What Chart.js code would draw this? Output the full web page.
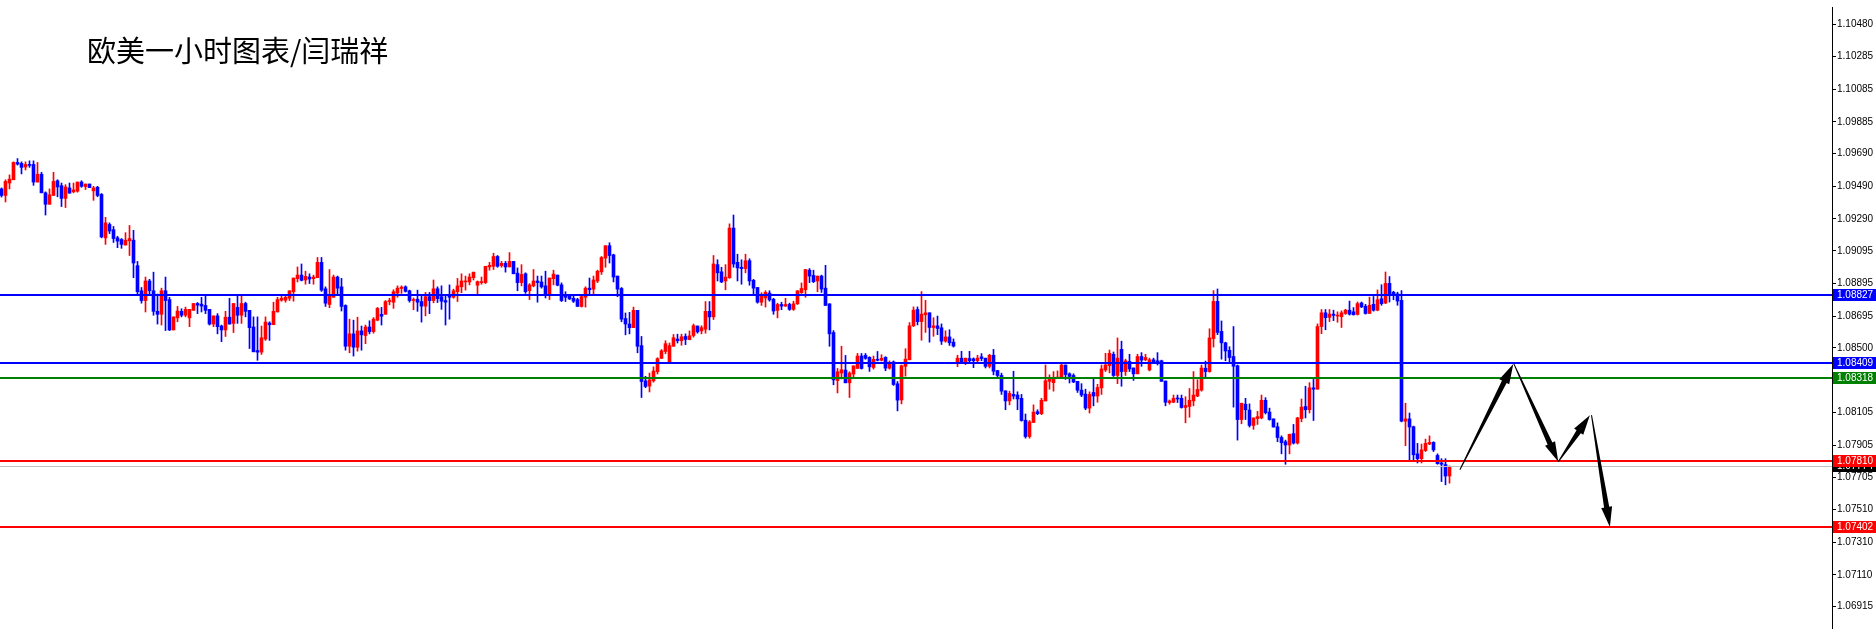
<!DOCTYPE html>
<html>
<head>
<meta charset="utf-8">
<script src="https://cdn.jsdelivr.net/npm/chart.js@4.4.1/dist/chart.umd.min.js"></script>
<style>
html, body { margin: 0; padding: 0; background: #fff; }
#wrap { position: relative; width: 1876px; height: 635px; overflow: hidden; }
#title { position: absolute; left: 87px; top: 31px; font-family: "Noto Sans CJK SC", sans-serif; font-size: 29px; line-height: 36px; color: #000; white-space: nowrap; }
</style>
</head>
<body>
<div id="wrap">
  <canvas id="chart" width="1876" height="635"></canvas>
  <div id="title">欧美一小时图表/闫瑞祥</div>
</div>
<script>
// EURUSD H1 candles (oldest first)
var opens = [
1.09474,1.09434,1.09510,1.09530,1.09636,1.09630,1.09608,1.09622,1.09624,1.09516,
1.09564,1.09450,1.09380,1.09434,1.09524,1.09494,1.09416,1.09480,1.09456,1.09460,
1.09516,1.09488,1.09504,1.09462,1.09484,1.09440,1.09174,1.09256,1.09224,1.09174,
1.09164,1.09130,1.09156,1.09160,1.09004,1.08850,1.08790,1.08910,1.08850,1.08724,
1.08706,1.08850,1.08796,1.08610,1.08684,1.08724,1.08700,1.08684,1.08730,1.08772,
1.08768,1.08760,1.08736,1.08646,1.08696,1.08634,1.08610,1.08688,1.08650,1.08748,
1.08700,1.08772,1.08730,1.08628,1.08484,1.08474,1.08554,1.08652,1.08642,1.08720,
1.08792,1.08792,1.08804,1.08844,1.08924,1.08946,1.08916,1.08934,1.08924,1.08930,
1.09024,1.08862,1.08766,1.08810,1.08934,1.08874,1.08760,1.08510,1.08586,1.08504,
1.08604,1.08576,1.08628,1.08600,1.08670,1.08706,1.08706,1.08784,1.08780,1.08836,
1.08864,1.08874,1.08850,1.08790,1.08798,1.08784,1.08756,1.08814,1.08790,1.08862,
1.08814,1.08790,1.08816,1.08810,1.08844,1.08874,1.08904,1.08904,1.08930,1.08884,
1.08900,1.08900,1.08996,1.09000,1.09060,1.09004,1.09018,1.08996,1.09030,1.08958,
1.08900,1.08954,1.08850,1.08880,1.08910,1.08904,1.08880,1.08826,1.08924,1.08946,
1.08886,1.08826,1.08820,1.08804,1.08796,1.08754,1.08810,1.08866,1.08860,1.08910,
1.08966,1.09050,1.09126,1.09070,1.08940,1.08864,1.08680,1.08646,1.08624,1.08730,
1.08514,1.08298,1.08266,1.08298,1.08354,1.08436,1.08478,1.08410,1.08510,1.08554,
1.08544,1.08570,1.08550,1.08576,1.08634,1.08604,1.08614,1.08724,1.08690,1.09010,
1.08966,1.08910,1.08930,1.09234,1.09024,1.08994,1.08986,1.09034,1.08914,1.08870,
1.08780,1.08806,1.08836,1.08798,1.08730,1.08766,1.08756,1.08766,1.08736,1.08770,
1.08838,1.08856,1.08976,1.08944,1.08910,1.08940,1.08866,1.08770,1.08594,1.08300,
1.08346,1.08364,1.08286,1.08340,1.08374,1.08450,1.08454,1.08442,1.08380,1.08430,
1.08424,1.08442,1.08376,1.08414,1.08280,1.08181,1.08387,1.08427,1.08635,1.08735,
1.08661,1.08703,1.08715,1.08625,1.08635,1.08623,1.08541,1.08567,1.08535,1.08415,
1.08437,1.08415,1.08435,1.08433,1.08421,1.08445,1.08437,1.08387,1.08455,1.08361,
1.08331,1.08237,1.08175,1.08215,1.08211,1.08191,1.08057,1.07957,1.08043,1.08109,
1.08097,1.08175,1.08295,1.08287,1.08315,1.08321,1.08395,1.08341,1.08331,1.08295,
1.08241,1.08217,1.08131,1.08227,1.08205,1.08255,1.08365,1.08391,1.08461,1.08331,
1.08491,1.08355,1.08417,1.08377,1.08341,1.08447,1.08427,1.08365,1.08427,1.08421,
1.08421,1.08297,1.08165,1.08167,1.08191,1.08191,1.08135,1.08141,1.08175,1.08205,
1.08241,1.08375,1.08355,1.08557,1.08785,1.08601,1.08531,1.08485,1.08447,1.08391,
1.08061,1.08155,1.08119,1.08025,1.08067,1.08071,1.08179,1.08107,1.08065,1.08017,
1.07951,1.07925,1.07905,1.07975,1.07917,1.08067,1.08141,1.08121,1.08255,1.08247,
1.08631,1.08715,1.08687,1.08707,1.08695,1.08691,1.08711,1.08731,1.08721,1.08705,
1.08775,1.08755,1.08711,1.08767,1.08731,1.08801,1.08775,1.08895,1.08841,1.08831,
1.08791,1.08051,1.08065,1.08017,1.07851,1.07821,1.07871,1.07911,1.07921,1.07841,
1.07795,1.07785,1.07715
];
var highs = [
1.09480,1.09530,1.09560,1.09640,1.09660,1.09640,1.09640,1.09646,1.09646,1.09636,
1.09576,1.09456,1.09474,1.09576,1.09530,1.09510,1.09500,1.09510,1.09510,1.09516,
1.09524,1.09504,1.09504,1.09490,1.09490,1.09446,1.09300,1.09266,1.09244,1.09184,
1.09170,1.09206,1.09250,1.09220,1.09030,1.08870,1.08934,1.08920,1.08964,1.08830,
1.08866,1.08934,1.08810,1.08690,1.08754,1.08740,1.08750,1.08736,1.08772,1.08778,
1.08810,1.08826,1.08736,1.08696,1.08710,1.08640,1.08724,1.08804,1.08772,1.08826,
1.08826,1.08780,1.08730,1.08690,1.08690,1.08634,1.08690,1.08660,1.08780,1.08810,
1.08816,1.08816,1.08850,1.08928,1.08996,1.09014,1.08970,1.08954,1.08946,1.09054,
1.09054,1.08874,1.08980,1.08946,1.08940,1.08926,1.08764,1.08676,1.08670,1.08688,
1.08634,1.08640,1.08666,1.08686,1.08748,1.08748,1.08790,1.08804,1.08856,1.08880,
1.08880,1.08880,1.08854,1.08806,1.08854,1.08816,1.08840,1.08840,1.08916,1.08874,
1.08880,1.08826,1.08886,1.08860,1.08926,1.08954,1.08940,1.08954,1.08964,1.08910,
1.08934,1.09000,1.09024,1.09080,1.09066,1.09030,1.09030,1.09084,1.09030,1.08990,
1.09010,1.08960,1.08894,1.08980,1.08940,1.08940,1.08970,1.08928,1.08976,1.08946,
1.08898,1.08844,1.08826,1.08820,1.08804,1.08820,1.08874,1.08928,1.08940,1.08976,
1.09060,1.09126,1.09144,1.09074,1.08940,1.08870,1.08714,1.08718,1.08750,1.08730,
1.08570,1.08326,1.08346,1.08384,1.08440,1.08490,1.08544,1.08530,1.08582,1.08584,
1.08584,1.08586,1.08604,1.08646,1.08634,1.08636,1.08784,1.08784,1.09066,1.09040,
1.08994,1.09010,1.09260,1.09314,1.09074,1.09040,1.09074,1.09046,1.08920,1.08870,
1.08838,1.08850,1.08850,1.08804,1.08774,1.08780,1.08804,1.08774,1.08786,1.08850,
1.08898,1.08980,1.08986,1.08976,1.08940,1.08946,1.09006,1.08770,1.08606,1.08374,
1.08510,1.08454,1.08354,1.08390,1.08466,1.08466,1.08466,1.08446,1.08450,1.08478,
1.08458,1.08446,1.08420,1.08420,1.08294,1.08395,1.08495,1.08655,1.08751,1.08751,
1.08845,1.08791,1.08715,1.08685,1.08695,1.08647,1.08605,1.08611,1.08555,1.08455,
1.08479,1.08437,1.08479,1.08439,1.08455,1.08465,1.08437,1.08461,1.08491,1.08361,
1.08345,1.08237,1.08235,1.08357,1.08231,1.08215,1.08095,1.08055,1.08151,1.08121,
1.08191,1.08395,1.08335,1.08355,1.08359,1.08405,1.08395,1.08347,1.08341,1.08295,
1.08281,1.08247,1.08231,1.08311,1.08277,1.08395,1.08467,1.08487,1.08475,1.08561,
1.08541,1.08431,1.08461,1.08377,1.08461,1.08471,1.08461,1.08437,1.08437,1.08471,
1.08425,1.08297,1.08181,1.08211,1.08211,1.08211,1.08201,1.08251,1.08355,1.08305,
1.08395,1.08419,1.08617,1.08851,1.08861,1.08665,1.08535,1.08507,1.08631,1.08395,
1.08161,1.08191,1.08157,1.08071,1.08111,1.08211,1.08195,1.08131,1.08065,1.08041,
1.07961,1.07935,1.07971,1.08031,1.08075,1.08187,1.08265,1.08287,1.08307,1.08647,
1.08735,1.08735,1.08735,1.08731,1.08721,1.08727,1.08737,1.08787,1.08747,1.08781,
1.08781,1.08767,1.08811,1.08815,1.08855,1.08887,1.08965,1.08937,1.08847,1.08841,
1.08851,1.08161,1.08101,1.08021,1.07915,1.07911,1.07941,1.07961,1.07925,1.07851,
1.07821,1.07821,1.07777
];
var lows = [
1.09424,1.09394,1.09474,1.09530,1.09620,1.09566,1.09590,1.09606,1.09496,1.09516,
1.09450,1.09314,1.09380,1.09434,1.09426,1.09366,1.09360,1.09448,1.09450,1.09454,
1.09484,1.09470,1.09482,1.09404,1.09426,1.09174,1.09134,1.09200,1.09146,1.09114,
1.09110,1.09130,1.09066,1.08930,1.08826,1.08774,1.08720,1.08820,1.08700,1.08646,
1.08640,1.08606,1.08606,1.08610,1.08660,1.08690,1.08690,1.08630,1.08730,1.08710,
1.08720,1.08710,1.08640,1.08630,1.08586,1.08538,1.08570,1.08646,1.08594,1.08650,
1.08650,1.08690,1.08496,1.08476,1.08424,1.08460,1.08546,1.08546,1.08642,1.08720,
1.08786,1.08780,1.08790,1.08786,1.08904,1.08910,1.08890,1.08894,1.08890,1.08930,
1.08846,1.08754,1.08746,1.08810,1.08830,1.08726,1.08486,1.08470,1.08450,1.08480,
1.08486,1.08526,1.08586,1.08590,1.08666,1.08640,1.08706,1.08764,1.08742,1.08810,
1.08834,1.08842,1.08780,1.08734,1.08724,1.08658,1.08696,1.08710,1.08776,1.08778,
1.08736,1.08640,1.08676,1.08804,1.08784,1.08838,1.08854,1.08886,1.08916,1.08830,
1.08890,1.08894,1.08976,1.08980,1.08994,1.08994,1.08964,1.08996,1.08954,1.08850,
1.08880,1.08834,1.08796,1.08874,1.08780,1.08866,1.08806,1.08796,1.08886,1.08880,
1.08784,1.08784,1.08796,1.08778,1.08754,1.08750,1.08750,1.08826,1.08830,1.08900,
1.08950,1.08994,1.09020,1.08904,1.08814,1.08660,1.08580,1.08586,1.08624,1.08470,
1.08196,1.08256,1.08230,1.08290,1.08340,1.08434,1.08464,1.08410,1.08510,1.08530,
1.08516,1.08520,1.08550,1.08566,1.08590,1.08586,1.08590,1.08610,1.08674,1.08910,
1.08900,1.08856,1.08926,1.08994,1.08910,1.08890,1.08960,1.08884,1.08826,1.08774,
1.08760,1.08750,1.08786,1.08706,1.08684,1.08734,1.08754,1.08730,1.08730,1.08766,
1.08834,1.08810,1.08900,1.08900,1.08844,1.08840,1.08760,1.08510,1.08274,1.08224,
1.08310,1.08286,1.08196,1.08320,1.08374,1.08370,1.08430,1.08356,1.08370,1.08420,
1.08420,1.08360,1.08370,1.08270,1.08114,1.08157,1.08327,1.08427,1.08631,1.08641,
1.08547,1.08595,1.08535,1.08571,1.08581,1.08521,1.08535,1.08515,1.08505,1.08385,
1.08407,1.08397,1.08411,1.08379,1.08415,1.08421,1.08377,1.08377,1.08335,1.08321,
1.08215,1.08121,1.08151,1.08187,1.08121,1.08051,1.07947,1.07947,1.08043,1.08091,
1.08091,1.08175,1.08247,1.08235,1.08315,1.08321,1.08307,1.08285,1.08287,1.08227,
1.08201,1.08121,1.08101,1.08145,1.08167,1.08215,1.08355,1.08347,1.08325,1.08281,
1.08265,1.08331,1.08355,1.08301,1.08341,1.08387,1.08421,1.08359,1.08407,1.08395,
1.08295,1.08145,1.08155,1.08165,1.08165,1.08131,1.08041,1.08075,1.08145,1.08201,
1.08235,1.08321,1.08351,1.08505,1.08581,1.08431,1.08421,1.08415,1.08137,1.07935,
1.08035,1.08061,1.08015,1.08001,1.08031,1.08065,1.08095,1.08057,1.08015,1.07925,
1.07851,1.07787,1.07851,1.07911,1.07911,1.08047,1.08071,1.08101,1.08055,1.08247,
1.08587,1.08611,1.08661,1.08667,1.08657,1.08625,1.08705,1.08701,1.08701,1.08701,
1.08747,1.08707,1.08711,1.08725,1.08727,1.08761,1.08771,1.08781,1.08795,1.08761,
1.08047,1.07901,1.07815,1.07815,1.07795,1.07795,1.07865,1.07907,1.07865,1.07787,
1.07681,1.07661,1.07671
];
var closes = [
1.09434,1.09520,1.09534,1.09636,1.09626,1.09606,1.09624,1.09618,1.09516,1.09564,
1.09450,1.09380,1.09438,1.09520,1.09486,1.09416,1.09486,1.09448,1.09468,1.09516,
1.09490,1.09504,1.09482,1.09480,1.09434,1.09180,1.09266,1.09216,1.09170,1.09154,
1.09134,1.09160,1.09170,1.09020,1.08844,1.08790,1.08910,1.08850,1.08724,1.08706,
1.08850,1.08790,1.08610,1.08690,1.08726,1.08700,1.08736,1.08736,1.08772,1.08762,
1.08756,1.08730,1.08646,1.08696,1.08630,1.08610,1.08688,1.08646,1.08772,1.08700,
1.08772,1.08724,1.08624,1.08476,1.08474,1.08562,1.08658,1.08642,1.08724,1.08796,
1.08804,1.08810,1.08850,1.08928,1.08946,1.08914,1.08938,1.08922,1.08934,1.09024,
1.08854,1.08774,1.08824,1.08934,1.08866,1.08754,1.08510,1.08586,1.08504,1.08604,
1.08580,1.08628,1.08600,1.08676,1.08742,1.08694,1.08784,1.08790,1.08844,1.08866,
1.08872,1.08846,1.08790,1.08796,1.08780,1.08756,1.08814,1.08790,1.08862,1.08802,
1.08786,1.08780,1.08810,1.08850,1.08880,1.08910,1.08910,1.08934,1.08964,1.08906,
1.08906,1.09000,1.09006,1.09060,1.09000,1.09018,1.08996,1.09030,1.08954,1.08900,
1.08950,1.08844,1.08886,1.08910,1.08900,1.08874,1.08826,1.08928,1.08952,1.08884,
1.08790,1.08810,1.08800,1.08786,1.08754,1.08814,1.08866,1.08856,1.08916,1.08970,
1.09054,1.09126,1.09066,1.08934,1.08860,1.08676,1.08646,1.08624,1.08730,1.08510,
1.08294,1.08264,1.08304,1.08358,1.08434,1.08482,1.08526,1.08514,1.08562,1.08544,
1.08568,1.08552,1.08574,1.08636,1.08598,1.08624,1.08724,1.08690,1.09014,1.08960,
1.08904,1.08934,1.09234,1.09014,1.08990,1.08986,1.09034,1.08910,1.08866,1.08780,
1.08820,1.08840,1.08794,1.08726,1.08766,1.08756,1.08766,1.08736,1.08770,1.08850,
1.08864,1.08980,1.08940,1.08906,1.08940,1.08860,1.08760,1.08586,1.08304,1.08354,
1.08366,1.08286,1.08346,1.08390,1.08450,1.08374,1.08436,1.08384,1.08430,1.08424,
1.08436,1.08376,1.08400,1.08276,1.08180,1.08391,1.08431,1.08635,1.08731,1.08661,
1.08707,1.08715,1.08625,1.08635,1.08619,1.08541,1.08567,1.08531,1.08511,1.08437,
1.08415,1.08437,1.08421,1.08421,1.08437,1.08435,1.08387,1.08455,1.08357,1.08331,
1.08235,1.08175,1.08221,1.08205,1.08187,1.08055,1.07957,1.08047,1.08107,1.08097,
1.08179,1.08299,1.08315,1.08315,1.08321,1.08395,1.08337,1.08325,1.08291,1.08241,
1.08211,1.08131,1.08215,1.08205,1.08257,1.08371,1.08395,1.08467,1.08331,1.08437,
1.08355,1.08421,1.08371,1.08341,1.08447,1.08425,1.08441,1.08427,1.08415,1.08411,
1.08295,1.08167,1.08175,1.08191,1.08187,1.08135,1.08147,1.08179,1.08211,1.08245,
1.08377,1.08355,1.08561,1.08785,1.08595,1.08531,1.08481,1.08441,1.08387,1.08061,
1.08161,1.08121,1.08025,1.08071,1.08079,1.08179,1.08103,1.08061,1.08015,1.07951,
1.07919,1.07905,1.07971,1.07917,1.08071,1.08137,1.08121,1.08255,1.08247,1.08631,
1.08715,1.08685,1.08707,1.08699,1.08701,1.08715,1.08731,1.08707,1.08703,1.08771,
1.08751,1.08711,1.08761,1.08731,1.08795,1.08771,1.08895,1.08831,1.08825,1.08787,
1.08051,1.08065,1.08015,1.07845,1.07821,1.07875,1.07915,1.07921,1.07875,1.07791,
1.07787,1.07715,1.07774
];

// price axis labels
var yTicks = [1.10480, 1.10285, 1.10085, 1.09885, 1.09690, 1.09490, 1.09290, 1.09095, 1.08895,
              1.08695, 1.08500, 1.08300, 1.08105, 1.07905, 1.07705, 1.07510, 1.07310, 1.07110, 1.06915];

// horizontal lines and their colours
var levelPrices = [1.08827, 1.08409, 1.08318, 1.07810, 1.07402];
var levelColors = ['#0000FF', '#0000FF', '#008000', '#FF0000', '#FF0000'];
var lastPrice = 1.07774;

// drawn arrows: [fromBar, fromPrice, toBar, toPrice]
var arrows = [
    [364.6, 1.07753, 377.95, 1.08402],
    [378.1, 1.08402, 389.2, 1.07802],
    [389.2, 1.07802, 397.1, 1.08088],
    [397.5, 1.08088, 402.1, 1.07403]
];

var axisFont = { family: "'Liberation Sans', Arial, sans-serif", size: 10 };

function candleColor(i) {
    return closes[i] >= opens[i] ? '#FF0000' : '#0000FF';
}

function drawArrow(c, x1, y1, x2, y2) {
    var dx = x2 - x1, dy = y2 - y1;
    var len = Math.sqrt(dx * dx + dy * dy);
    var ux = dx / len, uy = dy / len;
    var nx = -uy, ny = ux;
    var headLen = 20, headW = 5.5, shaftW = 2.6;
    var bx = x2 - ux * headLen, by = y2 - uy * headLen;
    c.beginPath();
    c.moveTo(x1 + nx * 0.5, y1 + ny * 0.5);
    c.lineTo(bx + nx * shaftW, by + ny * shaftW);
    c.lineTo(bx + nx * headW, by + ny * headW);
    c.lineTo(x2, y2);
    c.lineTo(bx - nx * headW, by - ny * headW);
    c.lineTo(bx - nx * shaftW, by - ny * shaftW);
    c.lineTo(x1 - nx * 0.5, y1 - ny * 0.5);
    c.closePath();
    c.fill();
}

var levelsPlugin = {
    id: 'levels',
    afterDatasetsDraw: function (chart) {
        var c = chart.ctx, area = chart.chartArea;
        var xs = chart.scales.x, ys = chart.scales.y;
        c.save();
        // current price line
        var yl = Math.round(ys.getPixelForValue(lastPrice)) + 0.5;
        c.strokeStyle = '#C0C0C0';
        c.lineWidth = 1;
        c.beginPath(); c.moveTo(area.left, yl); c.lineTo(area.right, yl); c.stroke();
        // support / resistance lines
        levelPrices.forEach(function (p, i) {
            var y = Math.round(ys.getPixelForValue(p));
            c.fillStyle = levelColors[i];
            c.fillRect(area.left, y - 1, area.right - area.left, 2);
        });
        // arrows
        c.fillStyle = '#000';
        arrows.forEach(function (a) {
            drawArrow(c, xs.getPixelForValue(a[0]), ys.getPixelForValue(a[1]),
                         xs.getPixelForValue(a[2]), ys.getPixelForValue(a[3]));
        });
        c.restore();
    },
    afterDraw: function (chart) {
        var c = chart.ctx, area = chart.chartArea, ys = chart.scales.y;
        var left = area.right + 1, w = chart.width - left;
        c.save();
        c.font = axisFont.size + 'px ' + axisFont.family;
        c.textBaseline = 'middle';
        c.textAlign = 'left';
        function box(p, color) {
            var y = Math.round(ys.getPixelForValue(p));
            c.fillStyle = color;
            c.fillRect(left, y - 6, w, 12);
            c.fillStyle = '#fff';
            c.fillText(p.toFixed(5), left + 4, y + 0.5);
        }
        box(lastPrice, '#000');
        levelPrices.forEach(function (p, i) { box(p, levelColors[i]); });
        c.restore();
    }
};

var bars = opens.map(function (v, i) { return i; });

window.onload = function () {
    var canvas = document.getElementById('chart');
    new Chart(canvas, {
        type: 'bar',
        data: {
            datasets: [{
                label: 'wicks',
                data: bars.map(function (i) { return { x: i, y: [lows[i], highs[i]] }; }),
                backgroundColor: bars.map(candleColor),
                barThickness: 1,
                minBarLength: 1,
                grouped: false
            }, {
                label: 'bodies',
                data: bars.map(function (i) { return { x: i, y: [opens[i], closes[i]] }; }),
                backgroundColor: bars.map(candleColor),
                barThickness: 3,
                minBarLength: 1,
                grouped: false
            }]
        },
        options: {
            responsive: false,
            animation: false,
            layout: { padding: 0 },
            plugins: {
                legend: { display: false },
                tooltip: { enabled: false }
            },
            scales: {
                x: {
                    type: 'linear',
                    min: -0.375,
                    max: 457.625,
                    offset: false,
                    display: false
                },
                y: {
                    position: 'right',
                    min: 1.0678386,
                    max: 1.1058853,
                    afterFit: function (scale) { scale.width = 44; },
                    afterBuildTicks: function (scale) {
                        scale.ticks = yTicks.map(function (v) { return { value: v }; });
                    },
                    border: { display: true, color: '#000', width: 1 },
                    grid: { drawOnChartArea: false, drawTicks: true, tickLength: 4, color: '#000' },
                    ticks: {
                        autoSkip: false,
                        padding: 1,
                        color: '#000',
                        font: axisFont,
                        callback: function (v) { return Number(v).toFixed(5); }
                    }
                }
            }
        },
        plugins: [levelsPlugin]
    });
};
</script>
</body>
</html>
